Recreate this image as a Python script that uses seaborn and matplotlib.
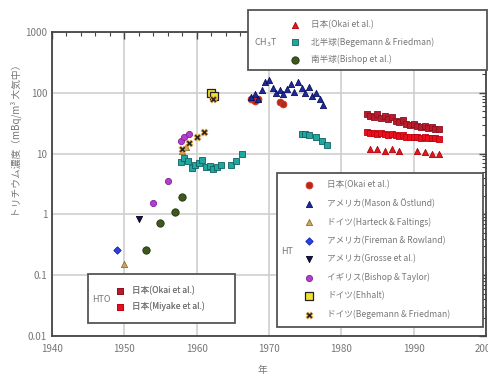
import numpy as np
import pandas as pd
import matplotlib
matplotlib.use("Agg")
import matplotlib.pyplot as plt
import matplotlib.ticker as ticker
from matplotlib.patches import Rectangle
import seaborn as sns

# --- CH3T ---
ch3t_jp_year = [1984, 1985, 1986, 1987, 1988, 1990.5, 1991.5, 1992.5, 1993.5]
ch3t_jp_val = [12, 12, 11, 12, 11, 11, 10.5, 10, 10]
ch3t_n_year = [1957.8, 1958.3, 1958.8, 1959.3, 1959.8, 1960.3, 1960.8, 1961.3, 1961.8,
               1962.3, 1962.8, 1963.3, 1964.8, 1965.5, 1966.2,
               1974.5, 1975.0, 1975.5, 1976.5, 1977.3, 1978.0]
ch3t_n_val = [7.2, 8.5, 7.5, 5.8, 6.5, 7.0, 7.8, 6.0, 6.2,
              5.5, 6.0, 6.5, 6.5, 7.5, 10,
              21, 21, 20, 19, 16, 14]
ch3t_s_year = [1953, 1955, 1957, 1958]
ch3t_s_val = [0.26, 0.72, 1.1, 1.9]

# --- HT ---
ht_okai_year = [1967.5, 1968.0, 1968.5, 1971.5, 1972.0]
ht_okai_val = [80, 72, 80, 70, 65]
ht_mason_year = [1967.5, 1968.0, 1968.5, 1969.0, 1969.5, 1970.0, 1970.5, 1971.0, 1971.5,
                 1972.0, 1972.5, 1973.0, 1973.5, 1974.0, 1974.5, 1975.0, 1975.5, 1976.0,
                 1976.5, 1977.0, 1977.5]
ht_mason_val = [85, 95, 80, 110, 150, 165, 120, 100, 110, 95, 115, 140, 105, 150, 120,
                100, 125, 90, 100, 80, 62]
ht_harteck_year = [1950, 1958.0, 1958.5]
ht_harteck_val = [0.15, 11, 13]
ht_fireman_year = [1949]
ht_fireman_val = [0.26]
ht_grosse_year = [1952]
ht_grosse_val = [0.85]
ht_bishop_year = [1954, 1956, 1957.8, 1958.3, 1959]
ht_bishop_val = [1.55, 3.5, 16, 19, 21]
ht_ehhalt_year = [1962.0, 1962.4]
ht_ehhalt_val = [100, 88]
ht_begemann_year = [1958, 1959, 1960, 1961, 1962.2]
ht_begemann_val = [12, 15, 19, 23, 80]

# --- HTO ---
hto_okai_year = list(np.arange(1983.5, 1993.6, 0.5))
hto_okai_val = [45, 42, 40, 44, 39, 42, 37, 40, 35, 33, 36, 31, 29, 31, 28, 27, 28, 26, 27, 25, 25]
hto_miyake_year = list(np.arange(1983.5, 1993.6, 0.5))
hto_miyake_val = [23, 22, 22, 21, 22, 21, 20, 21, 20, 19.5, 20, 19, 19, 18.5, 19, 18, 18.5, 18, 18, 18, 17.5]

ch3t_labels = ["日本(Okai et al.)", "北半球(Begemann & Friedman)", "南半球(Bishop et al.)"]
ht_labels = ["日本(Okai et al.)", "アメリカ(Mason & Östlund)", "ドイツ(Harteck & Faltings)",
             "アメリカ(Fireman & Rowland)", "アメリカ(Grosse et al.)", "イギリス(Bishop & Taylor)",
             "ドイツ(Ehhalt)", "ドイツ(Begemann & Friedman)"]
hto_labels = ["日本(Okai et al.)", "日本(Miyake et al.)"]

sns.set_theme(style="white")
plt.rcParams['font.family'] = ['Noto Sans CJK JP', 'DejaVu Sans']

W, H = 488, 377
fig = plt.figure(figsize=(W / 100, H / 100), dpi=100)
ax = fig.add_axes([52 / W, 1 - 336 / H, (486 - 52) / W, (336 - 32) / H])


def fx(px):
    return px / W


def fy(py):
    return 1 - py / H


def pts(x, y, marker, color, edge, size=20, lw=0.6):
    sns.scatterplot(x=x, y=y, marker=marker, color=color, edgecolor=edge, s=size,
                    linewidth=lw, ax=ax, zorder=3, legend=False)
    return ax.collections[-1]


h_hto_okai = pts(hto_okai_year, hto_okai_val, "s", "#b81c2a", "#8a1020")
h_hto_miyake = pts(hto_miyake_year, hto_miyake_val, "s", "#e8101c", "#c00010")
h_ch3t_jp = pts(ch3t_jp_year, ch3t_jp_val, "^", "#e01818", "#b00010")
h_ch3t_n = pts(ch3t_n_year, ch3t_n_val, "s", "#20a8a0", "#106060")
h_ch3t_s = pts(ch3t_s_year, ch3t_s_val, "o", "#3e5a1a", "#203010", size=28)
h_okai = pts(ht_okai_year, ht_okai_val, "o", "#b02a20", "#e03020", size=24)
h_mason = pts(ht_mason_year, ht_mason_val, "^", "#1c2a9a", "#0a1060")
h_harteck = pts(ht_harteck_year, ht_harteck_val, "^", "#c8a860", "#907030")
h_fireman = pts(ht_fireman_year, ht_fireman_val, "D", "#2a40e8", "#1020a0", size=14)
h_grosse = pts(ht_grosse_year, ht_grosse_val, "v", "#141440", "#000020")
h_bishop = pts(ht_bishop_year, ht_bishop_val, "o", "#b040c8", "#8020a0", size=20)
h_ehhalt = pts(ht_ehhalt_year, ht_ehhalt_val, "s", "#f0e030", "#222222", size=28, lw=0.9)
h_begemann = pts(ht_begemann_year, ht_begemann_val, "X", "#222222", "#e0a040", size=24)

ax.set_yscale("log")
ax.set_xlim(1940, 2000)
ax.set_ylim(0.01, 1000)
ax.xaxis.set_major_locator(ticker.MultipleLocator(10))
ax.xaxis.set_minor_locator(ticker.MultipleLocator(2))
ax.yaxis.set_major_locator(ticker.LogLocator(base=10, numticks=10))
ax.yaxis.set_minor_locator(ticker.LogLocator(base=10, subs=np.arange(2, 10), numticks=20))
ax.yaxis.set_major_formatter(ticker.FuncFormatter(lambda v, p: f"{v:g}"))
ax.yaxis.set_minor_formatter(ticker.NullFormatter())
ax.tick_params(which="both", direction="in", top=True, right=True, colors="#444444",
               labelcolor="#777777", labelsize=7)
ax.tick_params(which="major", length=5, width=1)
ax.tick_params(which="minor", length=3, width=0.8)
ax.tick_params(axis="x", which="major", pad=6)
ax.grid(True, which="major", color="#cfcfcf", linewidth=1.2)
for s in ax.spines.values():
    s.set_color("#444444")
    s.set_linewidth(1.3)

ax.set_xlabel("年", fontsize=7, color="#777777")
ax.xaxis.set_label_coords(0.485, -0.095)
ax.set_ylabel("トリチウム濃度（mBq/m³ 大気中）", fontsize=7, color="#777777")
ax.yaxis.set_label_coords(-0.07, 0.65)


def group_box(x0, y0, x1, y1, label, lx, ly):
    r = Rectangle((fx(x0), fy(y1)), fx(x1) - fx(x0), fy(y0) - fy(y1), transform=fig.transFigure,
                  facecolor="white", edgecolor="#555555", linewidth=1.3, zorder=4, clip_on=False)
    ax.add_patch(r)
    ax.text(fx(lx), fy(ly), label, transform=fig.transFigure, fontsize=6.5, color="#777777",
            ha="left", va="center", zorder=6)


def box_legend(handles, labels, x, y, spacing, textpad):
    leg = ax.legend(handles, labels, loc="upper left", bbox_to_anchor=(fx(x), fy(y)),
                    bbox_transform=fig.transFigure, frameon=False, fontsize=6.2,
                    labelcolor="#777777", handlelength=1.0, handletextpad=textpad,
                    labelspacing=spacing, borderpad=0, borderaxespad=0)
    leg.set_zorder(6)
    ax.add_artist(leg)
    return leg


group_box(248, 10, 487, 70, "CH$_3$T", 254, 43)
box_legend([h_ch3t_jp, h_ch3t_n, h_ch3t_s], ch3t_labels, 291, 20, 0.95, 1.3)

group_box(277, 173, 483, 327, "HT", 281, 252)
box_legend([h_okai, h_mason, h_harteck, h_fireman, h_grosse, h_bishop, h_ehhalt, h_begemann],
           ht_labels, 305, 180, 1.08, 1.6)

group_box(88, 274, 235, 323, "HTO", 92, 299)
box_legend([h_hto_okai, h_hto_miyake], hto_labels, 116, 286, 0.75, 0.9)

fig.savefig("out.png", dpi=100)
